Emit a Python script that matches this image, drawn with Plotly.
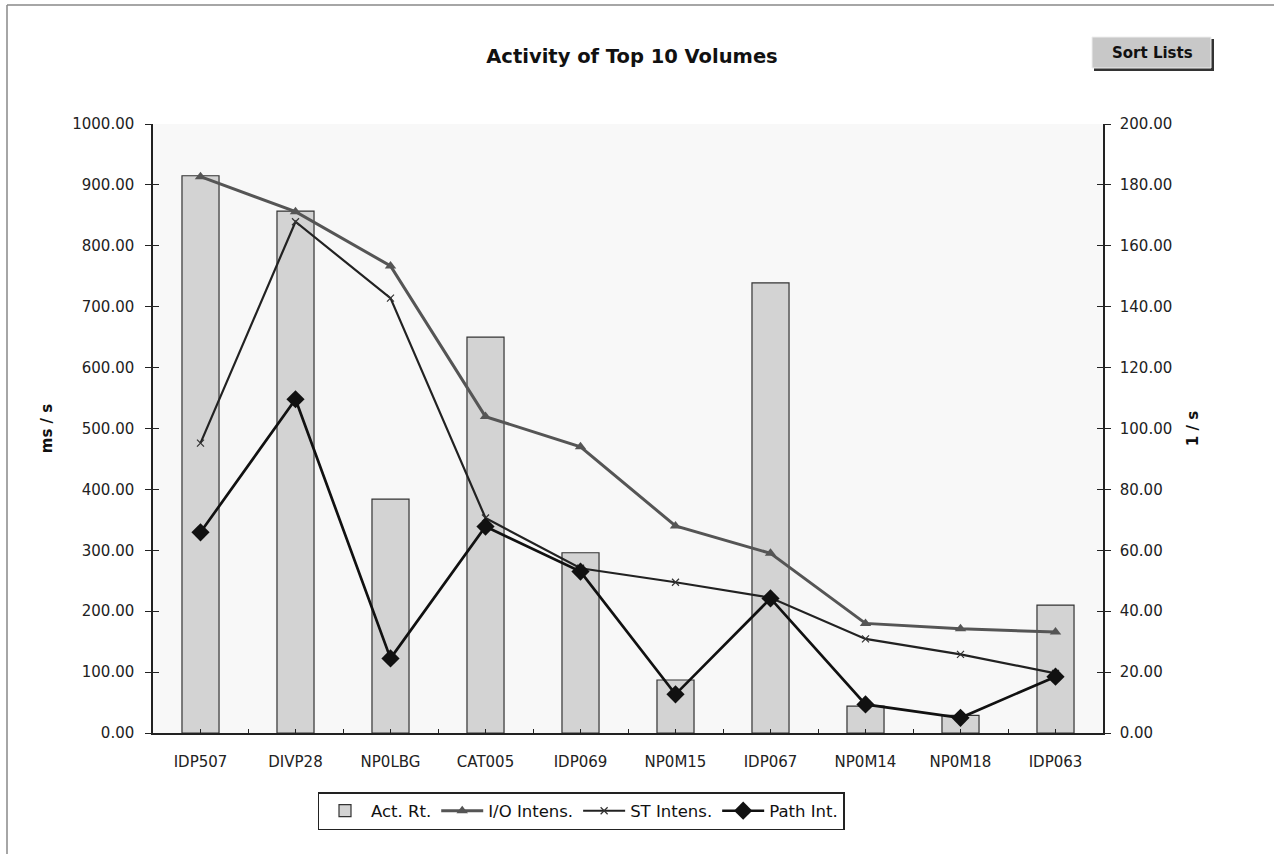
import plotly.graph_objects as go

volumes = ["IDP507", "DIVP28", "NP0LBG", "CAT005", "IDP069", "NP0M15", "IDP067", "NP0M14", "NP0M18", "IDP063"]
act_rt = [915, 857, 384, 650, 296, 87, 739, 44, 29, 210]
io_intens = [182.7, 171.2, 153.4, 103.9, 94.0, 68.0, 59.0, 36.0, 34.2, 33.2]
st_intens = [95.2, 167.9, 142.8, 70.6, 54.1, 49.5, 44.4, 30.9, 25.8, 19.6]
path_int = [65.9, 109.6, 24.5, 67.8, 53.0, 12.7, 44.2, 9.4, 5.0, 18.5]

W, H = 1274, 854
L, R, T, B = 153, 1103, 124, 733

def px(x):
    return (x - L) / (R - L)

def py(y):
    return (B - y) / (B - T)

xs = list(range(len(volumes)))
FONT = "DejaVu Sans, Verdana, sans-serif"

fig = go.Figure()
fig.add_trace(go.Bar(x=xs, y=act_rt, name="Act. Rt.", width=0.39,
                     marker=dict(color="#D3D3D3", line=dict(color="#333333", width=1.2)),
                     yaxis="y"))
fig.add_trace(go.Scatter(x=xs, y=io_intens, name="I/O Intens.", mode="lines+markers",
                         line=dict(color="#555555", width=3),
                         marker=dict(symbol="triangle-up", size=10, color="#555555"),
                         yaxis="y2"))
fig.add_trace(go.Scatter(x=xs, y=st_intens, name="ST Intens.", mode="lines+markers",
                         line=dict(color="#222222", width=2.2),
                         marker=dict(symbol="x-thin", size=7, line=dict(color="#333333", width=1.2)),
                         yaxis="y2"))
fig.add_trace(go.Scatter(x=xs, y=path_int, name="Path Int.", mode="lines+markers",
                         line=dict(color="#111111", width=2.7),
                         marker=dict(symbol="diamond", size=14, color="#111111"),
                         yaxis="y2"))

tickfont = dict(family=FONT, size=15, color="#222222")

fig.update_layout(
    width=W, height=H,
    margin=dict(l=L, r=W - R, t=T, b=H - B),
    paper_bgcolor="white",
    plot_bgcolor="#F8F8F8",
    showlegend=True,
    title=dict(text="<b>Activity of Top 10 Volumes</b>", x=px(632), xref="paper",
               xanchor="center", y=1 - 56 / H, yanchor="middle",
               font=dict(family=FONT, size=19.5, color="#111111")),
    xaxis=dict(range=[-0.5, 9.5], tickvals=xs, ticktext=volumes, tickfont=tickfont,
               ticks="inside", ticklen=4, tickcolor="#222222", ticklabelstandoff=14,
               minor=dict(ticks="inside", ticklen=4, tick0=-0.5, dtick=1, tickcolor="#222222"),
               showline=True, linecolor="#222222", linewidth=1.5, showgrid=False,
               zeroline=False, mirror=False),
    yaxis=dict(range=[0, 1000], dtick=100, tickformat=".2f", tickfont=tickfont,
               ticks="outside", ticklen=6, tickcolor="#222222", ticklabelstandoff=8,
               showline=True, linecolor="#222222", linewidth=1.5, showgrid=False, zeroline=False,
               title=dict(text="<b>ms / s</b>", font=dict(family=FONT, size=15, color="#111111"),
                          standoff=16)),
    yaxis2=dict(range=[0, 200], dtick=20, tickformat=".2f", tickfont=tickfont,
                overlaying="y", side="right", anchor="x",
                ticks="outside", ticklen=6, tickcolor="#222222", ticklabelstandoff=6,
                showline=True, linecolor="#222222", linewidth=1.5, showgrid=False, zeroline=False,
                title=dict(text="<b>1 / s</b>", font=dict(family=FONT, size=15, color="#111111"),
                           standoff=16)),
    yaxis3=dict(range=[0, 1000], dtick=100, overlaying="y", side="left", anchor="x",
                ticks="inside", ticklen=6, tickcolor="#222222", showticklabels=False,
                showline=False, showgrid=False, zeroline=False),
    yaxis4=dict(range=[0, 200], dtick=20, overlaying="y", side="right", anchor="x",
                ticks="inside", ticklen=6, tickcolor="#222222", showticklabels=False,
                showline=False, showgrid=False, zeroline=False),
    legend=dict(orientation="h", x=px(581), xanchor="center", y=py(792), yanchor="top",
                bordercolor="#222222", borderwidth=1.5, bgcolor="white",
                font=dict(family=FONT, size=16.5, color="#111111"),
                itemwidth=42, tracegroupgap=0, traceorder="normal"),
)

# dummy traces to activate the tick-only axes
fig.add_trace(go.Scatter(x=[None], y=[None], yaxis="y3", showlegend=False, hoverinfo="skip"))
fig.add_trace(go.Scatter(x=[None], y=[None], yaxis="y4", showlegend=False, hoverinfo="skip"))

shapes = [
    # outer chart frame (left and top edges)
    dict(type="line", xref="paper", yref="paper", x0=px(7), x1=px(7), y0=py(5), y1=py(H + 5),
         line=dict(color="#888888", width=1.5)),
    dict(type="line", xref="paper", yref="paper", x0=px(7), x1=px(W + 5), y0=py(5), y1=py(5),
         line=dict(color="#888888", width=1.5)),
    # Sort Lists button shadow and face
    dict(type="rect", xref="paper", yref="paper", x0=px(1094), x1=px(1214), y0=py(71), y1=py(39),
         fillcolor="#333333", line=dict(width=0)),
    dict(type="rect", xref="paper", yref="paper", x0=px(1092), x1=px(1211), y0=py(68), y1=py(37),
         fillcolor="#C8C8C8", line=dict(color="#EEEEEE", width=1)),
]
fig.update_layout(shapes=shapes)
fig.add_annotation(text="<b>Sort Lists</b>", xref="paper", yref="paper", x=px(1152), y=py(53),
                   xanchor="center", yanchor="middle", showarrow=False,
                   font=dict(family=FONT, size=15, color="#111111"))

fig.write_html("out.html", config={"displayModeBar": False},
               post_script="document.body.style.margin='0px';")
